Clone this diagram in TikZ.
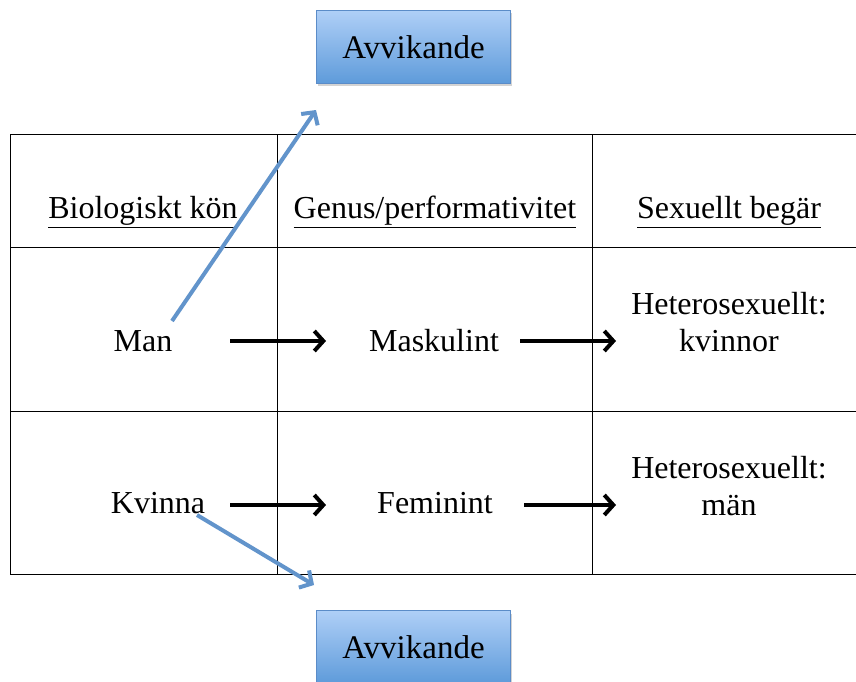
\documentclass[tikz,border=0pt]{standalone}
\usepackage{fontspec}
\setmainfont{Liberation Serif}
\usetikzlibrary{arrows.meta,shadows}
\definecolor{boxtop}{HTML}{AFCFF7}
\definecolor{boxbot}{HTML}{5E9BDA}
\definecolor{boxline}{HTML}{5B8CC8}
\definecolor{bluearr}{HTML}{6294CB}
\begin{document}
\begin{tikzpicture}[x=1pt,y=1pt,
  txt/.style={font=\fontsize{32}{37}\selectfont,align=center,inner sep=0pt},
  avbox/.style={draw=boxline,line width=1pt,top color=boxtop,bottom color=boxbot,
    minimum width=194pt,minimum height=73pt,inner sep=0pt,anchor=north west,
    font=\fontsize{33}{38}\selectfont,drop shadow={shadow xshift=1pt,shadow yshift=-3pt,opacity=0.35}},
  grid/.style={line width=1pt,black},
  blk/.style={line width=4pt,-{Straight Barb[length=9pt,width=20pt,line width=4pt]}},
  blu/.style={line width=4pt,bluearr,-{Straight Barb[length=9pt,width=20pt,line width=4pt]}}]
\useasboundingbox (0,0) rectangle (856,-682);
% table
\draw[grid] (856,-134) -- (10,-134) -- (10,-574) -- (856,-574);
\draw[grid] (10,-247) -- (856,-247);
\draw[grid] (10,-411) -- (856,-411);
\draw[grid] (277,-134) -- (277,-574);
\draw[grid] (592,-134) -- (592,-574);
% headers
\node[txt] (h1) at (143,-212) {\underline{Biologiskt kön}};
\node[txt] (h2) at (435,-212) {\underline{Genus/performativitet}};
\node[txt] (h3) at (729,-212) {\underline{Sexuellt begär}};
% row 1
\node[txt] (man) at (143,-341) {Man};
\node[txt] (mask) at (434,-341) {Maskulint};
\node[txt] (het1) at (729,-322) {Heterosexuellt:\\kvinnor};
% row 2
\node[txt] (kv) at (158,-503) {Kvinna};
\node[txt] (fem) at (435,-503) {Feminint};
\node[txt] (het2) at (729,-486) {Heterosexuellt:\\män};
% boxes
\node[avbox] (avtop) at (316,-10) {Avvikande};
\node[avbox] (avbot) at (316,-610) {Avvikande};
% arrow coordinates
\coordinate (a1s) at (230,-341);
\coordinate (a1e) at (326,-341);
\coordinate (a2s) at (520,-341);
\coordinate (a2e) at (616,-341);
\coordinate (a3s) at (230,-505);
\coordinate (a3e) at (326,-505);
\coordinate (a4s) at (524,-505);
\coordinate (a4e) at (616,-505);
\coordinate (b1s) at (172,-321);
\coordinate (b1e) at (316,-110);
\coordinate (b2s) at (197,-515);
\coordinate (b2e) at (314,-585);
\draw[blk] (a1s) -- (a1e);
\draw[blk] (a2s) -- (a2e);
\draw[blk] (a3s) -- (a3e);
\draw[blk] (a4s) -- (a4e);
\draw[blu] (b1s) -- (b1e);
\draw[blu] (b2s) -- (b2e);
\end{tikzpicture}
\end{document}
